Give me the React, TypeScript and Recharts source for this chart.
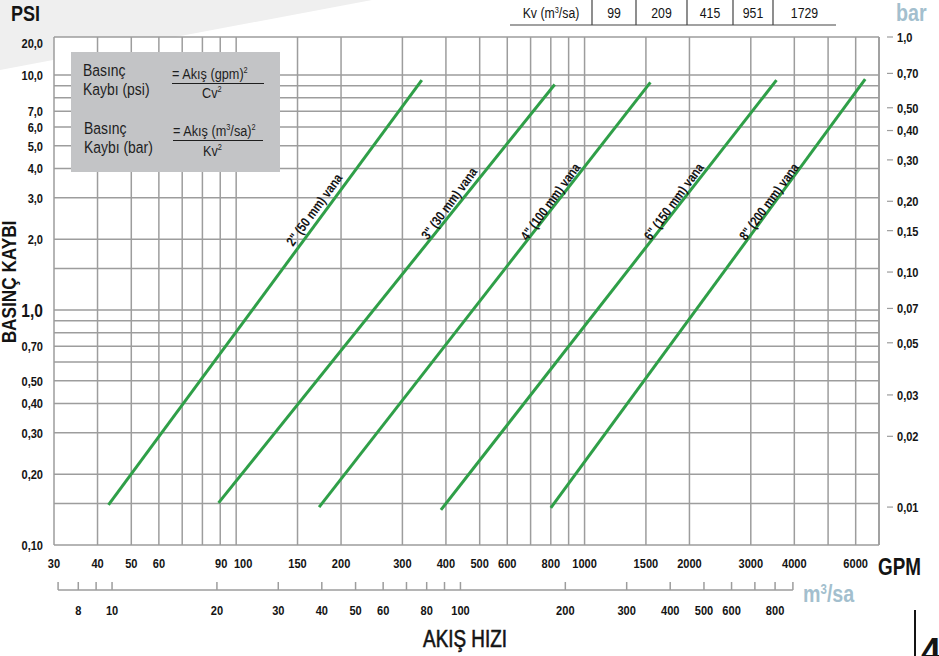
import React from 'react';
import { LineChart, Line, XAxis, YAxis, CartesianGrid, ReferenceDot } from 'recharts';

// Liberation Sans squeezed horizontally stands in for the condensed face of the original
const SANS = "'Liberation Sans', Arial, sans-serif";
const NARROW = 0.82;
const GRID = '#9d9d9d';
const GREEN = '#2f9f48';
const INK = '#141414';
const PALE_BLUE = '#a3bfce';

const W = 939;
const H = 656;
const PLOT_LEFT = 54;
const PLOT_RIGHT = 879;

// axis ranges (log scales)
const GPM_MIN = 30;
const GPM_MAX = 7000;
const PSI_MIN = 0.1;
const PSI_MAX = 14.5;
const GPM_PER_M3H = 4.4029;
const PSI_PER_BAR = 14.5;

// valves
const VALVES = ['2" (50 mm) vana', '3" (30 mm) vana', '4" (100 mm) vana', '6" (150 mm) vana', '8" (200 mm) vana'];
const KV = [99, 209, 415, 951, 1729];
const START_GPM = [43, 89, 173, 387, 800];
const START_PSI = [0.148, 0.151, 0.145, 0.141, 0.144];
const END_GPM = [341, 821, 1545, 3555, 6390];
const END_PSI = [9.5, 9.1, 9.3, 9.5, 9.6];
const LABEL_GPM = [168, 410, 800, 1809, 3395];
const LABEL_PSI = [2.66, 2.83, 2.88, 2.88, 2.88];

// ticks and grid
const GPM_TICKS = [30, 40, 50, 60, 90, 100, 150, 200, 300, 400, 500, 600, 800, 1000, 1500, 2000, 3000, 4000, 6000];
const GPM_GRID = [40, 50, 60, 70, 80, 90, 100, 150, 200, 300, 400, 500, 600, 700, 800, 900, 1000, 1500, 2000, 3000, 4000, 5000, 6000, 7000];
const PSI_TICKS = [0.1, 0.2, 0.3, 0.4, 0.5, 0.7, 1, 2, 3, 4, 5, 6, 7, 10, PSI_MAX];
const PSI_GRID = [0.15, 0.2, 0.3, 0.4, 0.5, 0.6, 0.7, 0.8, 0.9, 1, 1.5, 2, 3, 4, 5, 6, 7, 8, 9, 10, PSI_MAX];
const BAR_TICKS = [1.0, 0.7, 0.5, 0.4, 0.3, 0.2, 0.15, 0.1, 0.07, 0.05, 0.03, 0.02, 0.01];
const M3_TICKS = [7, 8, 9, 10, 20, 30, 40, 50, 60, 70, 80, 90, 100, 200, 300, 400, 500, 600, 700, 800, 900];
const M3_LABELS = [8, 10, 20, 30, 40, 50, 60, 80, 100, 200, 300, 400, 500, 600, 800];

const series = VALVES.map((name, i) => ({
  name,
  data: [
    { gpm: START_GPM[i], psi: START_PSI[i] },
    { gpm: END_GPM[i], psi: END_PSI[i] },
  ],
}));
// same points in m3/sa so the second x axis has something to scale
const m3Data = series[0].data.map((d) => ({ m3: d.gpm / GPM_PER_M3H, psi: d.psi }));

const comma = (v: number, d: number) => v.toFixed(d).replace('.', ',');
const fmtPsi = (v: number) => (v === PSI_MAX ? '20,0' : v < 1 ? comma(v, 2) : comma(v, 1));
const fmtBar = (v: number) => (v >= 1 ? comma(v, 1) : comma(v, 2));

// length of the m3/sa axis line, 7 .. 900 m3/sa
const M3_LINE_LEN =
  ((PLOT_RIGHT - PLOT_LEFT) * Math.log10(900 / 7)) / Math.log10(GPM_MAX / GPM_MIN);

const T = ({ x, y, size, bold = false, anchor = 'start', fill = INK, rotate = 0, dy, stroke, children }: any) => (
  <text
    transform={`translate(${x},${y})${rotate ? ` rotate(${rotate})` : ''} scale(${NARROW},1)`}
    textAnchor={anchor}
    dy={dy}
    fontFamily={SANS}
    fontSize={size}
    fontWeight={bold ? 'bold' : 'normal'}
    fill={fill}
    stroke={stroke}
    strokeWidth={stroke ? 0.6 : undefined}
  >
    {children}
  </text>
);

const PsiTick = ({ x, y, payload }: any) => {
  const v = payload.value;
  return (
    <T x={x} y={y + (v === PSI_MAX ? 6 : 0)} dy="0.36em" anchor="end" bold size={v === 1 ? 19 : 13.5}>
      {fmtPsi(v)}
    </T>
  );
};

const BarTick = ({ x, y, payload }: any) => (
  <g>
    <line x1={x} x2={x + 6} y1={y} y2={y} stroke={GRID} strokeWidth={1.2} />
    <T x={x + 10} y={y} dy="0.36em" bold size={13.5}>
      {fmtBar(payload.value)}
    </T>
  </g>
);

// 90 and 100 sit close together; the original nudges 100 to the right
const GpmTick = ({ x, y, payload }: any) => (
  <T x={x + (payload.value === 100 ? 7 : payload.value === 90 ? 1 : 0)} y={y + 23} anchor="middle" bold size={13.5}>
    {payload.value}
  </T>
);

const M3Tick = ({ x, y, payload }: any) => {
  const v = payload.value;
  return (
    <g>
      {v === M3_TICKS[0] && (
        <line x1={x} x2={x + M3_LINE_LEN} y1={y} y2={y} stroke={GRID} strokeWidth={1.5} />
      )}
      <line x1={x} x2={x} y1={y} y2={y - 8} stroke={GRID} strokeWidth={1.5} />
      {M3_LABELS.includes(v) && (
        <T x={x} y={y + 25} anchor="middle" bold size={13.5}>
          {v}
        </T>
      )}
    </g>
  );
};

const ValveLabel = (text: string) => (props: any) => (
  <T x={props.cx} y={props.cy} rotate={-54} anchor="middle" dy="0.3em" bold size={13.5}>
    {text}
  </T>
);

const KV_EDGES = [510, 592, 636, 687, 733, 773, 836];

function Overlay() {
  return (
    <svg width={W} height={H} style={{ position: 'absolute', left: 0, top: 0, pointerEvents: 'none' }}>
      {/* titles */}
      <T x={11} y={21} bold size={22}>PSI</T>
      <T x={896} y={21} bold size={24} fill={PALE_BLUE}>bar</T>
      <T x={878} y={575} bold size={23}>GPM</T>
      <T x={803} y={602} bold size={24} fill={PALE_BLUE}>
        m<tspan dy={-8} fontSize={14}>3</tspan>
        <tspan dy={8}>/sa</tspan>
      </T>
      <T x={465} y={647} anchor="middle" size={23} stroke={INK}>AKIŞ HIZI</T>
      <T x={16} y={282} rotate={-90} anchor="middle" bold size={21}>BASINÇ KAYBI</T>

      {/* Kv table */}
      <line x1={KV_EDGES[0]} x2={KV_EDGES[6]} y1={25} y2={25} stroke="#444" strokeWidth={1.2} />
      {KV_EDGES.slice(1, 6).map((xe) => (
        <line key={xe} x1={xe} x2={xe} y1={0} y2={25} stroke="#444" strokeWidth={1.2} />
      ))}
      <T x={(KV_EDGES[0] + KV_EDGES[1]) / 2} y={18} anchor="middle" size={15}>
        Kv (m<tspan dy={-5} fontSize={9}>3</tspan>
        <tspan dy={5}>/sa)</tspan>
      </T>
      {KV.map((k, i) => (
        <T key={k} x={(KV_EDGES[i + 1] + KV_EDGES[i + 2]) / 2} y={18} anchor="middle" size={15}>
          {k}
        </T>
      ))}

      {/* formula box */}
      <rect x={71} y={52} width={209} height={120} fill="#c3c4c6" />
      <T x={83} y={76} size={17} fill="#1e1e1e">Basınç</T>
      <T x={83} y={95} size={17} fill="#1e1e1e">Kaybı (psi)</T>
      <T x={172} y={79} size={15.5} fill="#1e1e1e">
        = Akış (gpm)<tspan dy={-6} fontSize={9}>2</tspan>
      </T>
      <line x1={172} x2={264} y1={83.5} y2={83.5} stroke="#1e1e1e" strokeWidth={1.2} />
      <T x={202} y={98} size={15.5} fill="#1e1e1e">
        Cv<tspan dy={-6} fontSize={9}>2</tspan>
      </T>
      <T x={84} y={134} size={17} fill="#1e1e1e">Basınç</T>
      <T x={84} y={153} size={17} fill="#1e1e1e">Kaybı (bar)</T>
      <T x={173} y={136} size={15.5} fill="#1e1e1e">
        = Akış (m<tspan dy={-6} fontSize={9}>3</tspan>
        <tspan dy={6}>/sa)</tspan>
        <tspan dy={-6} fontSize={9}>2</tspan>
      </T>
      <line x1={173} x2={263} y1={140.5} y2={140.5} stroke="#1e1e1e" strokeWidth={1.2} />
      <T x={203} y={156} size={15.5} fill="#1e1e1e">
        Kv<tspan dy={-6} fontSize={9}>2</tspan>
      </T>

      {/* page number */}
      <line x1={915} x2={915} y1={610} y2={656} stroke={INK} strokeWidth={2} />
      <text x={921} y={664} fontFamily={SANS} fontWeight="bold" fontSize={36} fill={INK}>4</text>
    </svg>
  );
}

export default function App() {
  return (
    <div style={{ position: 'absolute', left: 0, top: 0, width: W, height: H, overflow: 'hidden', background: '#fff' }}>
      <svg width={W} height={H} style={{ position: 'absolute', left: 0, top: 0 }}>
        <polygon points="0,0 372,0 0,70" fill="#efefef" />
        <rect x={PLOT_LEFT} y={37} width={PLOT_RIGHT - PLOT_LEFT} height={508} fill="#fff" />
      </svg>
      <div style={{ position: 'absolute', left: 0, top: 0 }}>
        <LineChart width={W} height={H} margin={{ top: 37, right: 0, bottom: 26, left: 0 }}>
          <XAxis
            xAxisId="gpm"
            dataKey="gpm"
            type="number"
            scale="log"
            domain={[GPM_MIN, GPM_MAX]}
            allowDataOverflow
            ticks={GPM_TICKS}
            interval={0}
            tick={GpmTick}
            tickLine={false}
            tickSize={0}
            tickMargin={0}
            axisLine={{ stroke: GRID, strokeWidth: 1.5 }}
            height={45}
          />
          <XAxis
            xAxisId="m3"
            dataKey="m3"
            type="number"
            scale="log"
            domain={[GPM_MIN / GPM_PER_M3H, GPM_MAX / GPM_PER_M3H]}
            allowDataOverflow
            ticks={M3_TICKS}
            interval={0}
            tick={M3Tick}
            tickLine={false}
            tickSize={0}
            tickMargin={0}
            axisLine={{ stroke: 'none' }}
            height={40}
          />
          <YAxis
            yAxisId="psi"
            type="number"
            scale="log"
            domain={[PSI_MIN, PSI_MAX]}
            allowDataOverflow
            ticks={PSI_TICKS}
            interval={0}
            tick={PsiTick}
            tickLine={false}
            tickSize={0}
            tickMargin={11}
            axisLine={{ stroke: GRID, strokeWidth: 1.5 }}
            width={PLOT_LEFT}
          />
          <YAxis
            yAxisId="bar"
            orientation="right"
            type="number"
            scale="log"
            domain={[PSI_MIN / PSI_PER_BAR, PSI_MAX / PSI_PER_BAR]}
            allowDataOverflow
            ticks={BAR_TICKS}
            interval={0}
            tick={BarTick}
            tickLine={false}
            tickSize={0}
            tickMargin={8}
            axisLine={{ stroke: GRID, strokeWidth: 1.5 }}
            width={W - PLOT_RIGHT}
          />
          <CartesianGrid
            xAxisId="gpm"
            yAxisId="psi"
            verticalValues={GPM_GRID}
            horizontalValues={PSI_GRID}
            stroke={GRID}
            strokeWidth={1.5}
          />
          <Line
            xAxisId="m3"
            yAxisId="psi"
            data={m3Data}
            dataKey="psi"
            stroke="none"
            dot={false}
            activeDot={false}
            isAnimationActive={false}
          />
          {series.map((s) => (
            <Line
              key={s.name}
              xAxisId="gpm"
              yAxisId="psi"
              data={s.data}
              dataKey="psi"
              type="linear"
              stroke={GREEN}
              strokeWidth={3}
              dot={false}
              isAnimationActive={false}
            />
          ))}
          {VALVES.map((name, i) => (
            <ReferenceDot
              key={name}
              xAxisId="gpm"
              yAxisId="psi"
              x={LABEL_GPM[i]}
              y={LABEL_PSI[i]}
              shape={ValveLabel(name)}
            />
          ))}
        </LineChart>
      </div>
      <Overlay />
    </div>
  );
}
